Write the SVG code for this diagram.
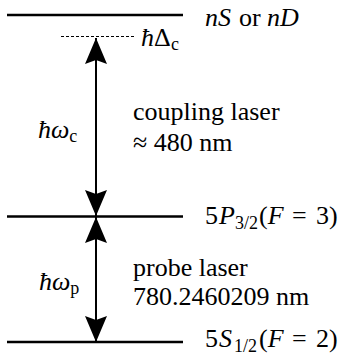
<svg xmlns="http://www.w3.org/2000/svg" width="349" height="356" viewBox="0 0 349 356">
<style>
.lvl{stroke:#000;stroke-width:2.5;fill:none}
.dash{stroke:#000;stroke-width:1;stroke-dasharray:3,2;fill:none}
.arr{stroke:#000;stroke-width:2;fill:none;marker-start:url(#ah);marker-end:url(#ah)}
text{font-family:"Liberation Serif","Times New Roman",serif;font-size:26px;fill:#000}
.i{font-style:italic}
.s{font-size:18px}
</style>
<defs>
<marker id="ah" markerUnits="userSpaceOnUse" viewBox="-27 -12 28 24" refX="0" refY="0" markerWidth="28" markerHeight="24" orient="auto-start-reverse">
<path d="M0,0 L-26,-11 L-22,0 L-26,11 Z" fill="#000"/>
</marker>
</defs>
<g id="levels">
<g id="level-nS"><line class="lvl" x1="7" y1="15" x2="183" y2="15"/><text x="205" y="26"><tspan class="i">nS</tspan><tspan x="239">or</tspan><tspan class="i" x="267">nD</tspan></text></g>
<g id="level-detuned"><line class="dash" x1="61" y1="36.5" x2="134" y2="36.5"/><text x="141" y="46"><tspan class="i">ħ</tspan><tspan x="154">Δ</tspan><tspan class="s" x="171" dy="4">c</tspan></text></g>
<g id="level-5P"><line class="lvl" x1="7" y1="216.5" x2="183" y2="216.5"/><text x="205" y="224">5<tspan class="i" x="219">P</tspan><tspan class="s" x="235" dy="5">3/2</tspan><tspan x="259" dy="-5">(</tspan><tspan class="i">F</tspan><tspan x="292">=</tspan><tspan x="316">3)</tspan></text></g>
<g id="level-5S"><line class="lvl" x1="7" y1="342" x2="183" y2="342"/><text x="205" y="347">5<tspan class="i" x="219">S</tspan><tspan class="s" x="234" dy="5">1/2</tspan><tspan x="259" dy="-5">(</tspan><tspan class="i">F</tspan><tspan x="292">=</tspan><tspan x="316">2)</tspan></text></g>
</g>
<g id="connectors">
<line class="arr" x1="96" y1="38" x2="96" y2="216"/>
<line class="arr" x1="96" y1="217" x2="96" y2="342"/>
</g>
<g id="labels">
<g id="coupling"><text x="38" y="138"><tspan class="i">ħω</tspan><tspan class="s" dy="4">c</tspan></text><text x="133" y="120">coupling laser</text><text x="133" y="151">≈ 480 nm</text></g>
<g id="probe"><text x="39" y="290"><tspan class="i">ħω</tspan><tspan class="s" dy="4">p</tspan></text><text x="133" y="276">probe laser</text><text x="133" y="305">780.2460209 nm</text></g>
</g>
</svg>
